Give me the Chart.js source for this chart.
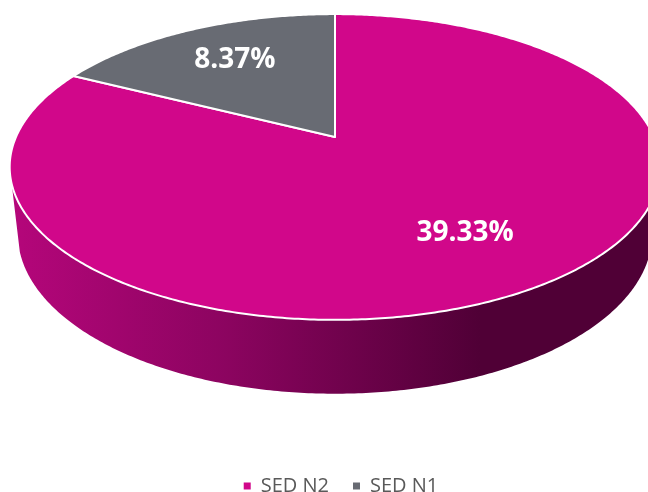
<!DOCTYPE html>
<html>
<head>
<meta charset="utf-8">
<title>SED N2 / SED N1</title>
<script src="https://cdn.jsdelivr.net/npm/chart.js@4"></script>
<style>
  html, body { margin: 0; padding: 0; background: #fff; }
  canvas { display: block; }
</style>
</head>
<body>
<canvas id="chart" width="648" height="492"></canvas>
<script>
// ---- data ----
const categories = ['SED N2', 'SED N1'];
const values = [39.33, 8.37];
const valueLabels = ['39.33%', '8.37%'];
const colors = ['#D1078A', '#686B73'];

// ---- tilted disc: projection of the pie's unit circle ----
const view = { cx: 335, cy: 137, a: 319, b: 147, p: 0.196 };
const wall = { scaleX: 0.975, scaleY: 1.045, topY: 167, bottomY: 234 };
const labelRadius = 0.68;
const legendShift = { x: 17, y: 14 };

function project(angle, r) {
  const u = Math.cos(angle) * r;
  const v = -Math.sin(angle) * r;
  const s = 1 / (1 + view.p * v);
  return { x: view.cx + view.a * u * s, y: view.cy - view.b * v * s };
}

function wallPoint(pt) {
  return {
    x: view.cx + (pt.x - view.cx) * wall.scaleX,
    y: wall.bottomY + (pt.y - wall.topY) * wall.scaleY,
  };
}

function arcPoints(start, end) {
  const steps = Math.max(2, Math.ceil(Math.abs(end - start) / 0.01));
  const pts = [];
  for (let i = 0; i <= steps; i++) pts.push(project(start + (end - start) * i / steps, 1));
  return pts;
}

function drawWall(ctx) {
  // front of the disc: top rim between its side extremes, then the lower rim back
  const top = arcPoints(0.197, 2.944);
  const bottom = arcPoints(2.836, 0.305).map(wallPoint);
  const grad = ctx.createLinearGradient(15, 0, 480, 0);
  grad.addColorStop(0, '#B4067A');
  grad.addColorStop(0.45, '#8C0460');
  grad.addColorStop(1, '#500036');
  ctx.beginPath();
  top.concat(bottom).forEach((p, i) => i ? ctx.lineTo(p.x, p.y) : ctx.moveTo(p.x, p.y));
  ctx.closePath();
  ctx.fillStyle = grad;
  ctx.fill();
}

const tiltedPie = {
  id: 'tiltedPie',
  afterLayout(chart) {
    // the legend sits lower and further right than the library centres it
    const legend = chart.legend;
    legend.left += legendShift.x;
    legend.right += legendShift.x;
    legend.top += legendShift.y;
    legend.bottom += legendShift.y;
  },
  beforeDatasetDraw(chart) {
    const ctx = chart.ctx;
    const arcs = chart.getDatasetMeta(0).data;
    ctx.save();
    drawWall(ctx);
    arcs.forEach((arc, i) => {
      ctx.beginPath();
      ctx.moveTo(view.cx, view.cy);
      arcPoints(arc.startAngle, arc.endAngle).forEach(p => ctx.lineTo(p.x, p.y));
      ctx.closePath();
      ctx.fillStyle = colors[i];
      ctx.fill();
      ctx.lineWidth = 2;
      ctx.lineJoin = 'round';
      ctx.strokeStyle = '#FFFFFF';
      ctx.stroke();
    });
    ctx.restore();
    return false;
  },
  afterDatasetsDraw(chart) {
    const ctx = chart.ctx;
    const arcs = chart.getDatasetMeta(0).data;
    ctx.save();
    ctx.font = 'bold 28px "Open Sans"';
    ctx.fillStyle = '#FFFFFF';
    ctx.textAlign = 'center';
    ctx.textBaseline = 'middle';
    arcs.forEach((arc, i) => {
      const p = project((arc.startAngle + arc.endAngle) / 2, labelRadius);
      ctx.fillText(valueLabels[i], p.x + 2, p.y);
    });
    ctx.restore();
  },
};

new Chart(document.getElementById('chart'), {
  type: 'pie',
  data: {
    labels: categories,
    datasets: [{ data: values, backgroundColor: colors, borderWidth: 0 }],
  },
  plugins: [tiltedPie],
  options: {
    responsive: false,
    animation: false,
    plugins: {
      tooltip: { enabled: false },
      legend: {
        position: 'bottom',
        labels: {
          usePointStyle: true,
          pointStyle: 'rect',
          boxWidth: 7,
          boxHeight: 7,
          padding: 24,
          color: '#595959',
          font: { family: '"Open Sans"', size: 20 },
        },
      },
    },
  },
});
</script>
</body>
</html>
